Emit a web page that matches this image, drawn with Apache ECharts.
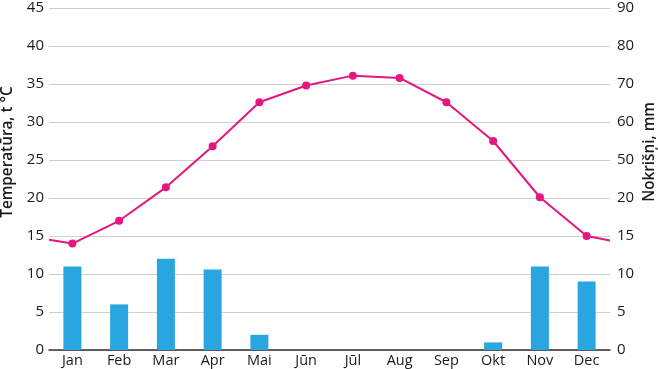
<!DOCTYPE html>
<html>
<head>
<meta charset="utf-8">
<script src="https://cdn.jsdelivr.net/npm/echarts@6/dist/echarts.min.js"></script>
<style>html,body{margin:0;padding:0;background:#fff}#c{width:658px;height:369px}</style>
</head>
<body>
<div id="c"></div>
<script>
const months = ['Jan','Feb','Mar','Apr','Mai','Jūn','Jūl','Aug','Sep','Okt','Nov','Dec'];
const temperature = [14, 17, 21.4, 26.8, 32.6, 34.8, 36.1, 35.8, 32.6, 27.5, 20.1, 15];
const tempEdgeStart = 14.5;
const tempEdgeEnd = 14.4;
const precipitation = [11, 6, 12, 10.6, 2, 0, 0, 0, 0, 1, 11, 9];
const rightTickLabels = ['0','5','10','15','20','50','60','70','80','90'];
const leftAxisName = 'Temperatūra, t °C';
const rightAxisName = 'Nokrišņi, mm';

const lineData = [{value:[0, tempEdgeStart], symbol:'none'}];
temperature.forEach((t,i)=>lineData.push({value:[i+0.5, t]}));
lineData.push({value:[12, tempEdgeEnd], symbol:'none'});

const font = 'Open Sans';
const chart = echarts.init(document.getElementById('c'));
chart.setOption({
  animation:false,
  grid:{left:49, right:48, top:8, bottom:19, containLabel:false},
  xAxis:[
    {type:'category', data:months, boundaryGap:true,
     axisTick:{show:false},
     axisLine:{lineStyle:{color:'#333', width:1.5}},
     axisLabel:{color:'#1a1a1a', fontFamily:font, fontSize:14.5, margin:3}},
    {type:'value', min:0, max:12, show:false}
  ],
  yAxis:[
    {type:'value', min:0, max:45, interval:5,
     axisLine:{show:false}, axisTick:{show:false},
     splitLine:{lineStyle:{color:'#cfcfcf', width:1.2}},
     axisLabel:{color:'#1a1a1a', fontFamily:font, fontSize:15, margin:5}},
    {type:'value', min:0, max:45, interval:5, position:'right',
     axisLine:{show:false}, axisTick:{show:false}, splitLine:{show:false},
     axisLabel:{color:'#1a1a1a', fontFamily:font, fontSize:15, margin:7,
       formatter:(v)=>rightTickLabels[Math.round(v/5)]}}
  ],
  graphic:[
    {type:'text', rotation:Math.PI/2, x:8, y:152,
     style:{text:leftAxisName, font:'600 15.3px "Open Sans"', fill:'#1a1a1a', align:'center', verticalAlign:'middle'}},
    {type:'text', rotation:Math.PI/2, x:650, y:152,
     style:{text:rightAxisName, font:'600 15.3px "Open Sans"', fill:'#1a1a1a', align:'center', verticalAlign:'middle'}}
  ],
  series:[
    {type:'bar', xAxisIndex:0, yAxisIndex:0, data:precipitation, barWidth:18,
     itemStyle:{color:'#29a5df', borderWidth:0}},
    {type:'line', xAxisIndex:1, yAxisIndex:0, data:lineData, symbol:'circle', symbolSize:8,
     lineStyle:{color:'#e6157f', width:2}, itemStyle:{color:'#e6157f'}, z:5}
  ]
});
</script>
</body>
</html>
